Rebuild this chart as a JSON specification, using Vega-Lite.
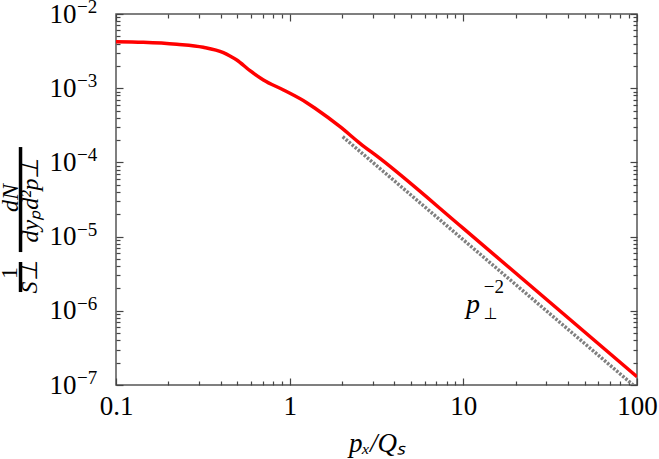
{
  "$schema": "https://vega.github.io/schema/vega-lite/v6.json",
  "width": 521,
  "height": 371,
  "autosize": {"type": "none"},
  "padding": {"left": 116, "top": 14, "right": 22, "bottom": 74},
  "background": "white",
  "config": {"view": {"stroke": "#555555", "strokeWidth": 1.5}, "font": "Liberation Serif"},
  "datasets": {
    "red": [
      {"x": 0.1, "y": 0.00423}, {"x": 0.1436, "y": 0.00416}, {"x": 0.224, "y": 0.00391},
      {"x": 0.318, "y": 0.00356}, {"x": 0.415, "y": 0.00301}, {"x": 0.453, "y": 0.00272},
      {"x": 0.496, "y": 0.0024}, {"x": 0.591, "y": 0.00172}, {"x": 0.706, "y": 0.00129},
      {"x": 0.921, "y": 0.000946}, {"x": 1.254, "y": 0.000638}, {"x": 1.4, "y": 0.000536},
      {"x": 1.95, "y": 0.000303}, {"x": 2.54, "y": 0.000181}, {"x": 3.31, "y": 0.000113},
      {"x": 10, "y": 0.0000129}, {"x": 100, "y": 0.000000129}
    ],
    "gray": [{"x": 2.02, "y": 0.000222}, {"x": 95, "y": 0.0000001}],
    "ytitleUp": [{"x": 0.0244, "y": 0.00000323, "t": "1"}],
    "ytitleIt": [
      {"x": 0.0318, "y": 0.00000286, "t": "S⊥"},
      {"x": 0.0247, "y": 0.0000331, "t": "dN"},
      {"x": 0.0326, "y": 0.0000311, "t": "dyₚd²p⊥"}
    ],
    "bars": [
      {"x": 0.0282, "y": 0.00000455, "y2": 0.00000179},
      {"x": 0.0282, "y": 0.000161, "y2": 0.00000619}
    ],
    "expo": [
      {"x": 0.0597, "y": 0.01, "t": "−2"}, {"x": 0.0597, "y": 0.001, "t": "−3"},
      {"x": 0.0597, "y": 0.0001, "t": "−4"}, {"x": 0.0597, "y": 0.00001, "t": "−5"},
      {"x": 0.0597, "y": 0.000001, "t": "−6"}, {"x": 0.0597, "y": 0.0000001, "t": "−7"}
    ],
    "annP": [{"x": 11.36, "y": 0.000000933, "t": "p"}],
    "annSup": [{"x": 13.1, "y": 0.00000174, "t": "−2"}],
    "annSub": [{"x": 13.1, "y": 0.000000776, "t": "⊥"}]
  },
  "layer": [
    {
      "data": {"name": "red"},
      "mark": {"type": "line", "color": "#ff0000", "strokeWidth": 3.5, "interpolate": "monotone", "clip": true},
      "encoding": {
        "x": {
          "field": "x", "type": "quantitative",
          "scale": {"type": "log", "domain": [0.1, 100], "nice": false},
          "axis": {
            "orient": "bottom",
            "values": [0.1,0.2,0.3,0.4,0.5,0.6,0.7,0.8,0.9,1,2,3,4,5,6,7,8,9,10,20,30,40,50,60,70,80,90,100],
            "format": "~g",
            "labelExpr": "abs(log(datum.value)/LN10 - round(log(datum.value)/LN10)) < 0.001 ? datum.label : ''",
            "labelOverlap": false, "labelFlush": false, "domain": false, "grid": false,
            "ticks": true, "tickColor": "#444444", "tickWidth": 1.2,
            "tickSize": {"condition": {"test": "abs(log(datum.value)/LN10 - round(log(datum.value)/LN10)) < 0.001", "value": -7}, "value": -4},
            "labelFont": "Liberation Serif", "labelFontSize": 27, "labelColor": "black", "labelPadding": 15,
            "title": "pₓ/Qₛ", "titleFont": "Liberation Serif", "titleFontStyle": "italic", "titleFontWeight": "normal",
            "titleFontSize": 27, "titleColor": "black", "titlePadding": 8
          }
        },
        "y": {
          "field": "y", "type": "quantitative",
          "scale": {"type": "log", "domain": [0.0000001, 0.01], "nice": false},
          "axis": {
            "orient": "left",
            "values": [1e-7,2e-7,3e-7,4e-7,5e-7,6e-7,7e-7,8e-7,9e-7,1e-6,2e-6,3e-6,4e-6,5e-6,6e-6,7e-6,8e-6,9e-6,1e-5,2e-5,3e-5,4e-5,5e-5,6e-5,7e-5,8e-5,9e-5,1e-4,2e-4,3e-4,4e-4,5e-4,6e-4,7e-4,8e-4,9e-4,1e-3,2e-3,3e-3,4e-3,5e-3,6e-3,7e-3,8e-3,9e-3,1e-2],
            "labelExpr": "abs(log(datum.value)/LN10 - round(log(datum.value)/LN10)) < 0.001 ? '10' : ''",
            "labelOverlap": false, "labelFlush": false, "domain": false, "grid": false,
            "ticks": true, "tickColor": "#444444", "tickWidth": 1.2,
            "tickSize": {"condition": {"test": "abs(log(datum.value)/LN10 - round(log(datum.value)/LN10)) < 0.001", "value": -7}, "value": -4},
            "labelFont": "Liberation Serif", "labelFontSize": 27, "labelColor": "black", "labelPadding": 47, "labelBaseline": "middle", "labelDy": 3,
            "title": null
          }
        }
      }
    },
    {
      "data": {"name": "gray"},
      "mark": {"type": "line", "color": "#808080", "strokeWidth": 3.5, "strokeDash": [2.5, 1.5], "clip": true},
      "encoding": {
        "x": {
          "field": "x", "type": "quantitative",
          "scale": {"type": "log", "domain": [0.1, 100], "nice": false},
          "axis": {
            "orient": "top", "labels": false, "title": null, "domain": false, "grid": false,
            "values": [0.1,0.2,0.3,0.4,0.5,0.6,0.7,0.8,0.9,1,2,3,4,5,6,7,8,9,10,20,30,40,50,60,70,80,90,100],
            "ticks": true, "tickColor": "#444444", "tickWidth": 1.2,
            "tickSize": {"condition": {"test": "abs(log(datum.value)/LN10 - round(log(datum.value)/LN10)) < 0.001", "value": -7}, "value": -4}
          }
        },
        "y": {
          "field": "y", "type": "quantitative",
          "scale": {"type": "log", "domain": [0.0000001, 0.01], "nice": false},
          "axis": {
            "orient": "right", "labels": false, "title": null, "domain": false, "grid": false,
            "values": [1e-7,2e-7,3e-7,4e-7,5e-7,6e-7,7e-7,8e-7,9e-7,1e-6,2e-6,3e-6,4e-6,5e-6,6e-6,7e-6,8e-6,9e-6,1e-5,2e-5,3e-5,4e-5,5e-5,6e-5,7e-5,8e-5,9e-5,1e-4,2e-4,3e-4,4e-4,5e-4,6e-4,7e-4,8e-4,9e-4,1e-3,2e-3,3e-3,4e-3,5e-3,6e-3,7e-3,8e-3,9e-3,1e-2],
            "ticks": true, "tickColor": "#444444", "tickWidth": 1.2,
            "tickSize": {"condition": {"test": "abs(log(datum.value)/LN10 - round(log(datum.value)/LN10)) < 0.001", "value": -7}, "value": -4}
          }
        }
      }
    },
    {
      "data": {"name": "expo"},
      "mark": {"type": "text", "align": "left", "baseline": "middle", "dy": -7, "fontSize": 19, "font": "Liberation Serif", "color": "black"},
      "encoding": {
        "x": {"field": "x", "type": "quantitative", "scale": {"type": "log", "domain": [0.1, 100], "nice": false}, "axis": null},
        "y": {"field": "y", "type": "quantitative", "scale": {"type": "log", "domain": [0.0000001, 0.01], "nice": false}, "axis": null},
        "text": {"field": "t"}
      }
    },
    {
      "data": {"name": "ytitleUp"},
      "mark": {"type": "text", "angle": 270, "align": "center", "baseline": "middle", "fontSize": 24, "font": "Liberation Serif", "color": "black"},
      "encoding": {
        "x": {"field": "x", "type": "quantitative", "scale": {"type": "log", "domain": [0.1, 100], "nice": false}, "axis": null},
        "y": {"field": "y", "type": "quantitative", "scale": {"type": "log", "domain": [0.0000001, 0.01], "nice": false}, "axis": null},
        "text": {"field": "t"}
      }
    },
    {
      "data": {"name": "ytitleIt"},
      "mark": {"type": "text", "angle": 270, "align": "center", "baseline": "middle", "fontSize": 24, "font": "Liberation Serif", "fontStyle": "italic", "color": "black"},
      "encoding": {
        "x": {"field": "x", "type": "quantitative", "scale": {"type": "log", "domain": [0.1, 100], "nice": false}, "axis": null},
        "y": {"field": "y", "type": "quantitative", "scale": {"type": "log", "domain": [0.0000001, 0.01], "nice": false}, "axis": null},
        "text": {"field": "t"}
      }
    },
    {
      "data": {"name": "bars"},
      "mark": {"type": "rule", "color": "black", "strokeWidth": 3.5},
      "encoding": {
        "x": {"field": "x", "type": "quantitative", "scale": {"type": "log", "domain": [0.1, 100], "nice": false}, "axis": null},
        "y": {"field": "y", "type": "quantitative", "scale": {"type": "log", "domain": [0.0000001, 0.01], "nice": false}, "axis": null},
        "y2": {"field": "y2"}
      }
    },
    {
      "data": {"name": "annP"},
      "mark": {"type": "text", "align": "center", "baseline": "alphabetic", "fontSize": 28, "font": "Liberation Serif", "fontStyle": "italic", "color": "black"},
      "encoding": {
        "x": {"field": "x", "type": "quantitative", "scale": {"type": "log", "domain": [0.1, 100], "nice": false}, "axis": null},
        "y": {"field": "y", "type": "quantitative", "scale": {"type": "log", "domain": [0.0000001, 0.01], "nice": false}, "axis": null},
        "text": {"field": "t"}
      }
    },
    {
      "data": {"name": "annSup"},
      "mark": {"type": "text", "align": "left", "baseline": "alphabetic", "fontSize": 19, "font": "Liberation Serif", "color": "black"},
      "encoding": {
        "x": {"field": "x", "type": "quantitative", "scale": {"type": "log", "domain": [0.1, 100], "nice": false}, "axis": null},
        "y": {"field": "y", "type": "quantitative", "scale": {"type": "log", "domain": [0.0000001, 0.01], "nice": false}, "axis": null},
        "text": {"field": "t"}
      }
    },
    {
      "data": {"name": "annSub"},
      "mark": {"type": "text", "align": "left", "baseline": "alphabetic", "fontSize": 16, "font": "DejaVu Sans", "color": "black"},
      "encoding": {
        "x": {"field": "x", "type": "quantitative", "scale": {"type": "log", "domain": [0.1, 100], "nice": false}, "axis": null},
        "y": {"field": "y", "type": "quantitative", "scale": {"type": "log", "domain": [0.0000001, 0.01], "nice": false}, "axis": null},
        "text": {"field": "t"}
      }
    }
  ],
  "resolve": {"axis": {"x": "independent", "y": "independent"}}
}
